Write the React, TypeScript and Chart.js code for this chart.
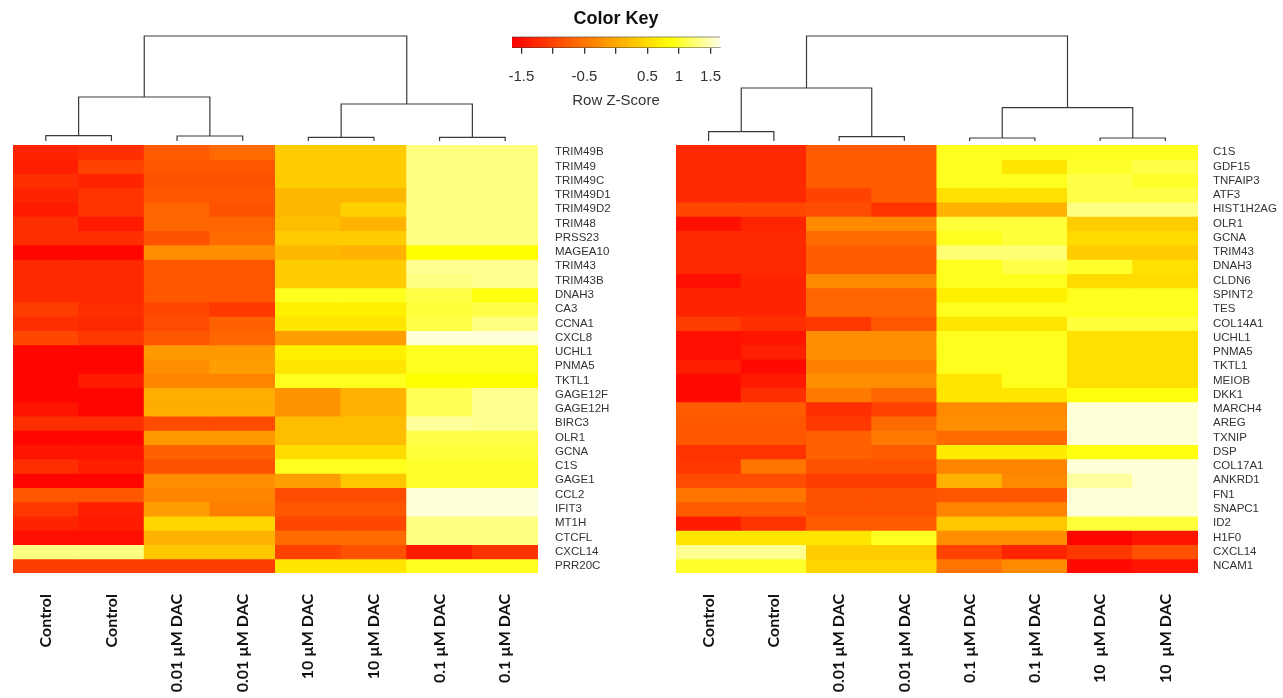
import React, { useEffect, useRef } from 'react';
import { Chart, registerables } from 'chart.js';

Chart.register(...registerables);
Chart.defaults.font.family = "'Liberation Sans', Arial, sans-serif";

// ---------- data ----------
const leftColumns = ['Control', 'Control', '0.01 µM DAC', '0.01 µM DAC', '10 µM DAC', '10 µM DAC', '0.1 µM DAC', '0.1 µM DAC'];
const rightColumns = ['Control', 'Control', '0.01 µM DAC', '0.01 µM DAC', '0.1 µM DAC', '0.1 µM DAC', '10  µM DAC', '10  µM DAC'];

const leftGenes = ['TRIM49B', 'TRIM49', 'TRIM49C', 'TRIM49D1', 'TRIM49D2', 'TRIM48', 'PRSS23', 'MAGEA10', 'TRIM43', 'TRIM43B', 'DNAH3', 'CA3', 'CCNA1', 'CXCL8', 'UCHL1', 'PNMA5', 'TKTL1', 'GAGE12F', 'GAGE12H', 'BIRC3', 'OLR1', 'GCNA', 'C1S', 'GAGE1', 'CCL2', 'IFIT3', 'MT1H', 'CTCFL', 'CXCL14', 'PRR20C'];
const rightGenes = ['C1S', 'GDF15', 'TNFAIP3', 'ATF3', 'HIST1H2AG', 'OLR1', 'GCNA', 'TRIM43', 'DNAH3', 'CLDN6', 'SPINT2', 'TES', 'COL14A1', 'UCHL1', 'PNMA5', 'TKTL1', 'MEIOB', 'DKK1', 'MARCH4', 'AREG', 'TXNIP', 'DSP', 'COL17A1', 'ANKRD1', 'FN1', 'SNAPC1', 'ID2', 'H1F0', 'CXCL14', 'NCAM1'];

// row z-scores (one row per gene, one value per column)
const leftZ = [
  [-1.3, -1.2, -0.75, -0.6, 0.35, 0.35, 1.3, 1.3],
  [-1.35, -1.0, -0.8, -0.8, 0.35, 0.35, 1.3, 1.3],
  [-1.2, -1.3, -0.85, -0.85, 0.35, 0.35, 1.3, 1.3],
  [-1.3, -1.15, -0.8, -0.8, 0.15, 0.15, 1.3, 1.3],
  [-1.4, -1.15, -0.65, -0.85, 0.15, 0.4, 1.3, 1.3],
  [-1.2, -1.4, -0.65, -0.65, 0.2, 0.1, 1.3, 1.3],
  [-1.2, -1.2, -0.85, -0.6, 0.35, 0.35, 1.3, 1.3],
  [-1.6, -1.6, -0.25, -0.25, 0.15, 0.1, 0.85, 0.85],
  [-1.25, -1.25, -0.8, -0.8, 0.35, 0.35, 1.35, 1.35],
  [-1.25, -1.25, -0.8, -0.8, 0.35, 0.35, 1.3, 1.35],
  [-1.25, -1.25, -0.8, -0.8, 0.95, 0.95, 1.1, 0.9],
  [-1.05, -1.2, -0.95, -1.1, 0.7, 0.7, 1.05, 1.1],
  [-1.2, -1.25, -0.9, -0.7, 0.6, 0.6, 1.1, 1.3],
  [-0.95, -1.1, -0.8, -0.65, -0.1, -0.1, 1.6, 1.6],
  [-1.6, -1.6, -0.15, -0.15, 0.7, 0.7, 0.95, 0.95],
  [-1.6, -1.6, -0.25, -0.1, 0.6, 0.6, 0.95, 0.95],
  [-1.6, -1.4, -0.35, -0.35, 0.95, 0.95, 0.85, 0.85],
  [-1.6, -1.6, 0.05, 0.05, -0.2, 0.1, 1.15, 1.35],
  [-1.45, -1.6, 0.05, 0.05, -0.2, 0.1, 1.15, 1.35],
  [-1.2, -1.2, -0.9, -0.9, 0.2, 0.2, 1.4, 1.35],
  [-1.6, -1.6, -0.15, -0.15, 0.2, 0.2, 1.1, 1.1],
  [-1.45, -1.45, -0.7, -0.7, 0.5, 0.5, 1.05, 1.05],
  [-1.2, -1.35, -0.85, -0.85, 0.95, 0.95, 1.0, 1.0],
  [-1.6, -1.6, -0.25, -0.25, -0.1, 0.3, 1.0, 1.0],
  [-0.8, -0.8, -0.35, -0.35, -0.9, -0.9, 1.6, 1.6],
  [-1.1, -1.35, -0.1, -0.4, -0.8, -0.8, 1.6, 1.6],
  [-1.3, -1.4, 0.45, 0.45, -0.95, -0.95, 1.3, 1.3],
  [-1.5, -1.5, 0.1, 0.1, -0.6, -0.6, 1.3, 1.3],
  [1.3, 1.3, 0.3, 0.3, -1.0, -0.85, -1.4, -1.15],
  [-1.05, -1.05, -1.05, -1.05, 0.6, 0.6, 0.95, 0.95],
];

const rightZ = [
  [-1.25, -1.25, -0.75, -0.75, 0.95, 0.95, 0.95, 0.95],
  [-1.25, -1.25, -0.75, -0.75, 0.95, 0.6, 1.0, 1.1],
  [-1.25, -1.25, -0.75, -0.75, 0.95, 0.95, 1.1, 1.0],
  [-1.25, -1.25, -1.0, -0.75, 0.55, 0.55, 1.1, 1.1],
  [-0.95, -0.95, -0.9, -1.15, 0.1, 0.1, 1.3, 1.3],
  [-1.5, -1.3, -0.3, -0.3, 1.05, 1.05, 0.35, 0.35],
  [-1.25, -1.25, -0.6, -0.6, 0.95, 1.05, 0.5, 0.5],
  [-1.25, -1.25, -0.75, -0.75, 1.25, 1.25, 0.35, 0.35],
  [-1.25, -1.25, -0.75, -0.75, 0.95, 1.1, 1.0, 0.55],
  [-1.5, -1.3, -0.3, -0.3, 0.95, 0.95, 0.5, 0.5],
  [-1.3, -1.3, -0.65, -0.65, 0.7, 0.7, 0.95, 0.95],
  [-1.3, -1.3, -0.65, -0.65, 0.95, 0.95, 0.95, 0.95],
  [-1.05, -1.2, -1.1, -0.8, 0.6, 0.6, 1.05, 1.05],
  [-1.5, -1.45, -0.25, -0.25, 0.95, 0.95, 0.55, 0.55],
  [-1.5, -1.35, -0.25, -0.25, 0.95, 0.95, 0.55, 0.55],
  [-1.35, -1.55, -0.4, -0.4, 0.95, 0.95, 0.55, 0.55],
  [-1.55, -1.4, -0.25, -0.25, 0.6, 0.95, 0.55, 0.55],
  [-1.55, -1.2, -0.45, -0.65, 0.6, 0.6, 0.9, 0.9],
  [-0.75, -0.75, -1.2, -1.0, -0.3, -0.3, 1.6, 1.6],
  [-0.8, -0.8, -1.1, -0.6, -0.25, -0.25, 1.6, 1.6],
  [-0.8, -0.8, -0.7, -0.45, -0.6, -0.6, 1.6, 1.6],
  [-1.15, -1.15, -0.7, -0.75, 0.65, 0.65, 0.9, 0.9],
  [-1.1, -0.5, -0.85, -0.85, -0.35, -0.35, 1.6, 1.6],
  [-0.9, -0.9, -1.05, -1.05, 0.1, -0.3, 1.4, 1.6],
  [-0.5, -0.5, -0.85, -0.85, -0.8, -0.8, 1.6, 1.6],
  [-0.75, -0.75, -0.85, -0.85, -0.35, -0.35, 1.6, 1.6],
  [-1.4, -1.15, -0.75, -0.75, 0.3, 0.3, 1.05, 1.05],
  [0.6, 0.6, 0.6, 0.95, -0.25, -0.25, -1.6, -1.45],
  [1.35, 1.35, 0.35, 0.35, -1.0, -1.3, -1.1, -0.85],
  [1.0, 1.0, 0.45, 0.45, -0.5, -0.3, -1.55, -1.45],
];

// column dendrogram merge heights (leaf pairs, pair groups, root)
const leftPairHeights = [5.3, 5.0, 3.7, 3.7];
const leftGroupHeights = [44, 37];
const leftRootHeight = 105;
const rightPairHeights = [9.3, 4.3, 3, 3];
const rightGroupHeights = [53, 33.3];
const rightRootHeight = 105;
const dendroMax = 111;

// colour key
const keyRange = [-1.65, 1.65];
const keyTicks = [-1.5, -1, -0.5, 0, 0.5, 1, 1.5];
const keyHiddenLabels = [-1, 0];
const colorYellowAt = 0.85;

// ---------- helpers ----------
function zColor(z: number): string {
  const lo = keyRange[0];
  const hi = keyRange[1];
  const v = Math.max(lo, Math.min(hi, z));
  if (v <= colorYellowAt) {
    const g = Math.round((255 * (v - lo)) / (colorYellowAt - lo));
    return `rgb(255,${g},0)`;
  }
  const b = Math.round((230 * (v - colorYellowAt)) / (hi - colorYellowAt));
  return `rgb(255,255,${b})`;
}

function dendroSegments(pairs: number[], groups: number[], root: number) {
  const segs: { x: number; y: number }[][] = [];
  const pairX: number[] = [];
  pairs.forEach((h, k) => {
    const a = 2 * k;
    const b = 2 * k + 1;
    segs.push([{ x: a, y: 0 }, { x: a, y: h }, { x: b, y: h }, { x: b, y: 0 }]);
    pairX.push((a + b) / 2);
  });
  const groupX: number[] = [];
  groups.forEach((h, g) => {
    const i = 2 * g;
    const j = 2 * g + 1;
    segs.push([
      { x: pairX[i], y: pairs[i] },
      { x: pairX[i], y: h },
      { x: pairX[j], y: h },
      { x: pairX[j], y: pairs[j] },
    ]);
    groupX.push((pairX[i] + pairX[j]) / 2);
  });
  segs.push([
    { x: groupX[0], y: groups[0] },
    { x: groupX[0], y: root },
    { x: groupX[1], y: root },
    { x: groupX[1], y: groups[1] },
  ]);
  return segs;
}

// ---------- components ----------
type HeatProps = {
  genes: string[];
  columns: string[];
  z: number[][];
  left: number;
  top: number;
  areaW: number;
  areaH: number;
  axisW: number;
  axisH: number;
  labelPad: number;
};

function Heatmap(p: HeatProps) {
  const ref = useRef<HTMLCanvasElement>(null);
  const w = p.areaW + p.axisW;
  const h = p.areaH + p.axisH;
  useEffect(() => {
    if (!ref.current) return;
    const datasets = p.genes.map((g, r) => ({
      label: g,
      data: p.columns.map(() => 1),
      backgroundColor: p.z[r].map(zColor),
      borderWidth: 0,
      barPercentage: 1,
      categoryPercentage: 1,
      inflateAmount: 0.5,
    }));
    const chart = new Chart(ref.current, {
      type: 'bar',
      data: { labels: p.columns, datasets },
      options: {
        animation: false,
        responsive: false,
        maintainAspectRatio: false,
        layout: { padding: 0 },
        events: [],
        plugins: { legend: { display: false }, tooltip: { enabled: false }, title: { display: false } },
        scales: {
          x: {
            stacked: true,
            grid: { display: false, drawTicks: false },
            border: { display: false },
            ticks: {
              autoSkip: false,
              maxRotation: 90,
              minRotation: 90,
              padding: 21,
              color: '#111',
              font: { family: 'Lato', weight: 'bold', size: 16 },
            },
            afterFit: (s: any) => {
              s.height = p.axisH;
              s.paddingLeft = 0;
              s.paddingRight = 0;
            },
          },
          y: {
            stacked: true,
            reverse: true,
            min: 0,
            max: p.genes.length,
            position: 'right',
            grid: { display: false, drawTicks: false },
            border: { display: false },
            afterBuildTicks: (s: any) => {
              s.ticks = p.genes.map((_, i) => ({ value: i + 0.5 }));
            },
            ticks: {
              autoSkip: false,
              padding: p.labelPad,
              color: '#333',
              font: { size: 11.5 },
              callback: (v: any) => p.genes[Math.floor(Number(v))] ?? '',
            },
            afterFit: (s: any) => {
              s.width = p.axisW;
              s.paddingTop = 0;
              s.paddingBottom = 0;
            },
          },
        },
      } as any,
    });
    return () => chart.destroy();
  }, []);
  return (
    <canvas
      ref={ref}
      width={w}
      height={h}
      style={{ position: 'absolute', left: p.left, top: p.top, width: w, height: h }}
    />
  );
}

type DendroProps = { pairs: number[]; groups: number[]; root: number; left: number; top: number; w: number; h: number };

function Dendrogram(p: DendroProps) {
  const ref = useRef<HTMLCanvasElement>(null);
  useEffect(() => {
    if (!ref.current) return;
    const segs = dendroSegments(p.pairs, p.groups, p.root);
    const chart = new Chart(ref.current, {
      type: 'scatter',
      data: {
        datasets: segs.map((s) => ({
          data: s,
          showLine: true,
          borderColor: '#3a3a3a',
          borderWidth: 1.2,
          pointRadius: 0,
          tension: 0,
        })),
      },
      options: {
        animation: false,
        responsive: false,
        maintainAspectRatio: false,
        layout: { padding: 0 },
        events: [],
        plugins: { legend: { display: false }, tooltip: { enabled: false } },
        scales: {
          x: { type: 'linear', min: -0.5, max: 7.5, display: false },
          y: { type: 'linear', min: 0, max: dendroMax, display: false },
        },
      } as any,
    });
    return () => chart.destroy();
  }, []);
  return (
    <canvas
      ref={ref}
      width={p.w}
      height={p.h}
      style={{ position: 'absolute', left: p.left, top: p.top, width: p.w, height: p.h }}
    />
  );
}

function ColorKey() {
  const ref = useRef<HTMLCanvasElement>(null);
  const w = 248;
  const h = 116;
  useEffect(() => {
    if (!ref.current) return;
    const chart = new Chart(ref.current, {
      type: 'bar',
      data: {
        labels: ['key'],
        datasets: [
          {
            data: [[keyRange[0], keyRange[1]]],
            backgroundColor: (ctx: any) => {
              const area = ctx.chart.chartArea;
              if (!area) return zColor(0);
              const g = ctx.chart.ctx.createLinearGradient(area.left, 0, area.right, 0);
              const n = 40;
              for (let i = 0; i <= n; i++) {
                const t = i / n;
                g.addColorStop(t, zColor(keyRange[0] + t * (keyRange[1] - keyRange[0])));
              }
              return g;
            },
            borderColor: '#333',
            borderWidth: { top: 1, left: 0, right: 0, bottom: 0 },
            borderSkipped: false,
            barPercentage: 1,
            categoryPercentage: 1,
          },
        ],
      },
      options: {
        indexAxis: 'y',
        animation: false,
        responsive: false,
        maintainAspectRatio: false,
        events: [],
        layout: { padding: { left: 20, right: 20, top: 0, bottom: 0 } },
        plugins: {
          legend: { display: false },
          tooltip: { enabled: false },
          title: {
            display: true,
            text: 'Color Key',
            color: '#111',
            font: { size: 18, weight: 'bold' },
            padding: { top: 8, bottom: 7 },
          },
        },
        scales: {
          x: {
            type: 'linear',
            min: keyRange[0],
            max: keyRange[1],
            grid: { display: true, drawOnChartArea: false, drawTicks: true, tickLength: 6, color: '#333', lineWidth: 1.3 },
            border: { display: true, color: '#333' },
            afterBuildTicks: (s: any) => {
              s.ticks = keyTicks.map((v) => ({ value: v }));
            },
            ticks: {
              autoSkip: false,
              maxRotation: 0,
              padding: 14,
              color: '#333',
              font: { size: 15 },
              callback: (v: any) => (keyHiddenLabels.includes(Number(v)) ? '' : String(v)),
            },
            title: {
              display: true,
              text: 'Row Z-Score',
              color: '#333',
              font: { size: 15 },
              padding: { top: 4, bottom: 6 },
            },
            afterFit: (s: any) => {
              s.height = 68.3;
            },
          },
          y: { display: false },
        },
      } as any,
    });
    return () => chart.destroy();
  }, []);
  return (
    <canvas
      ref={ref}
      width={w}
      height={h}
      style={{ position: 'absolute', left: 492, top: 0, width: w, height: h }}
    />
  );
}

export default function App() {
  return (
    <div style={{ position: 'fixed', left: 0, top: 0, width: 1283, height: 698, background: '#fff', overflow: 'hidden' }}>
      <Dendrogram pairs={leftPairHeights} groups={leftGroupHeights} root={leftRootHeight} left={13} top={30} w={525} h={111} />
      <Dendrogram pairs={rightPairHeights} groups={rightGroupHeights} root={rightRootHeight} left={676} top={30} w={522} h={111} />
      <ColorKey />
      <Heatmap genes={leftGenes} columns={leftColumns} z={leftZ} left={13} top={145} areaW={525} areaH={428} axisW={100} axisH={125} labelPad={17} />
      <Heatmap genes={rightGenes} columns={rightColumns} z={rightZ} left={676} top={145} areaW={522} areaH={428} axisW={85} axisH={125} labelPad={15} />
    </div>
  );
}
